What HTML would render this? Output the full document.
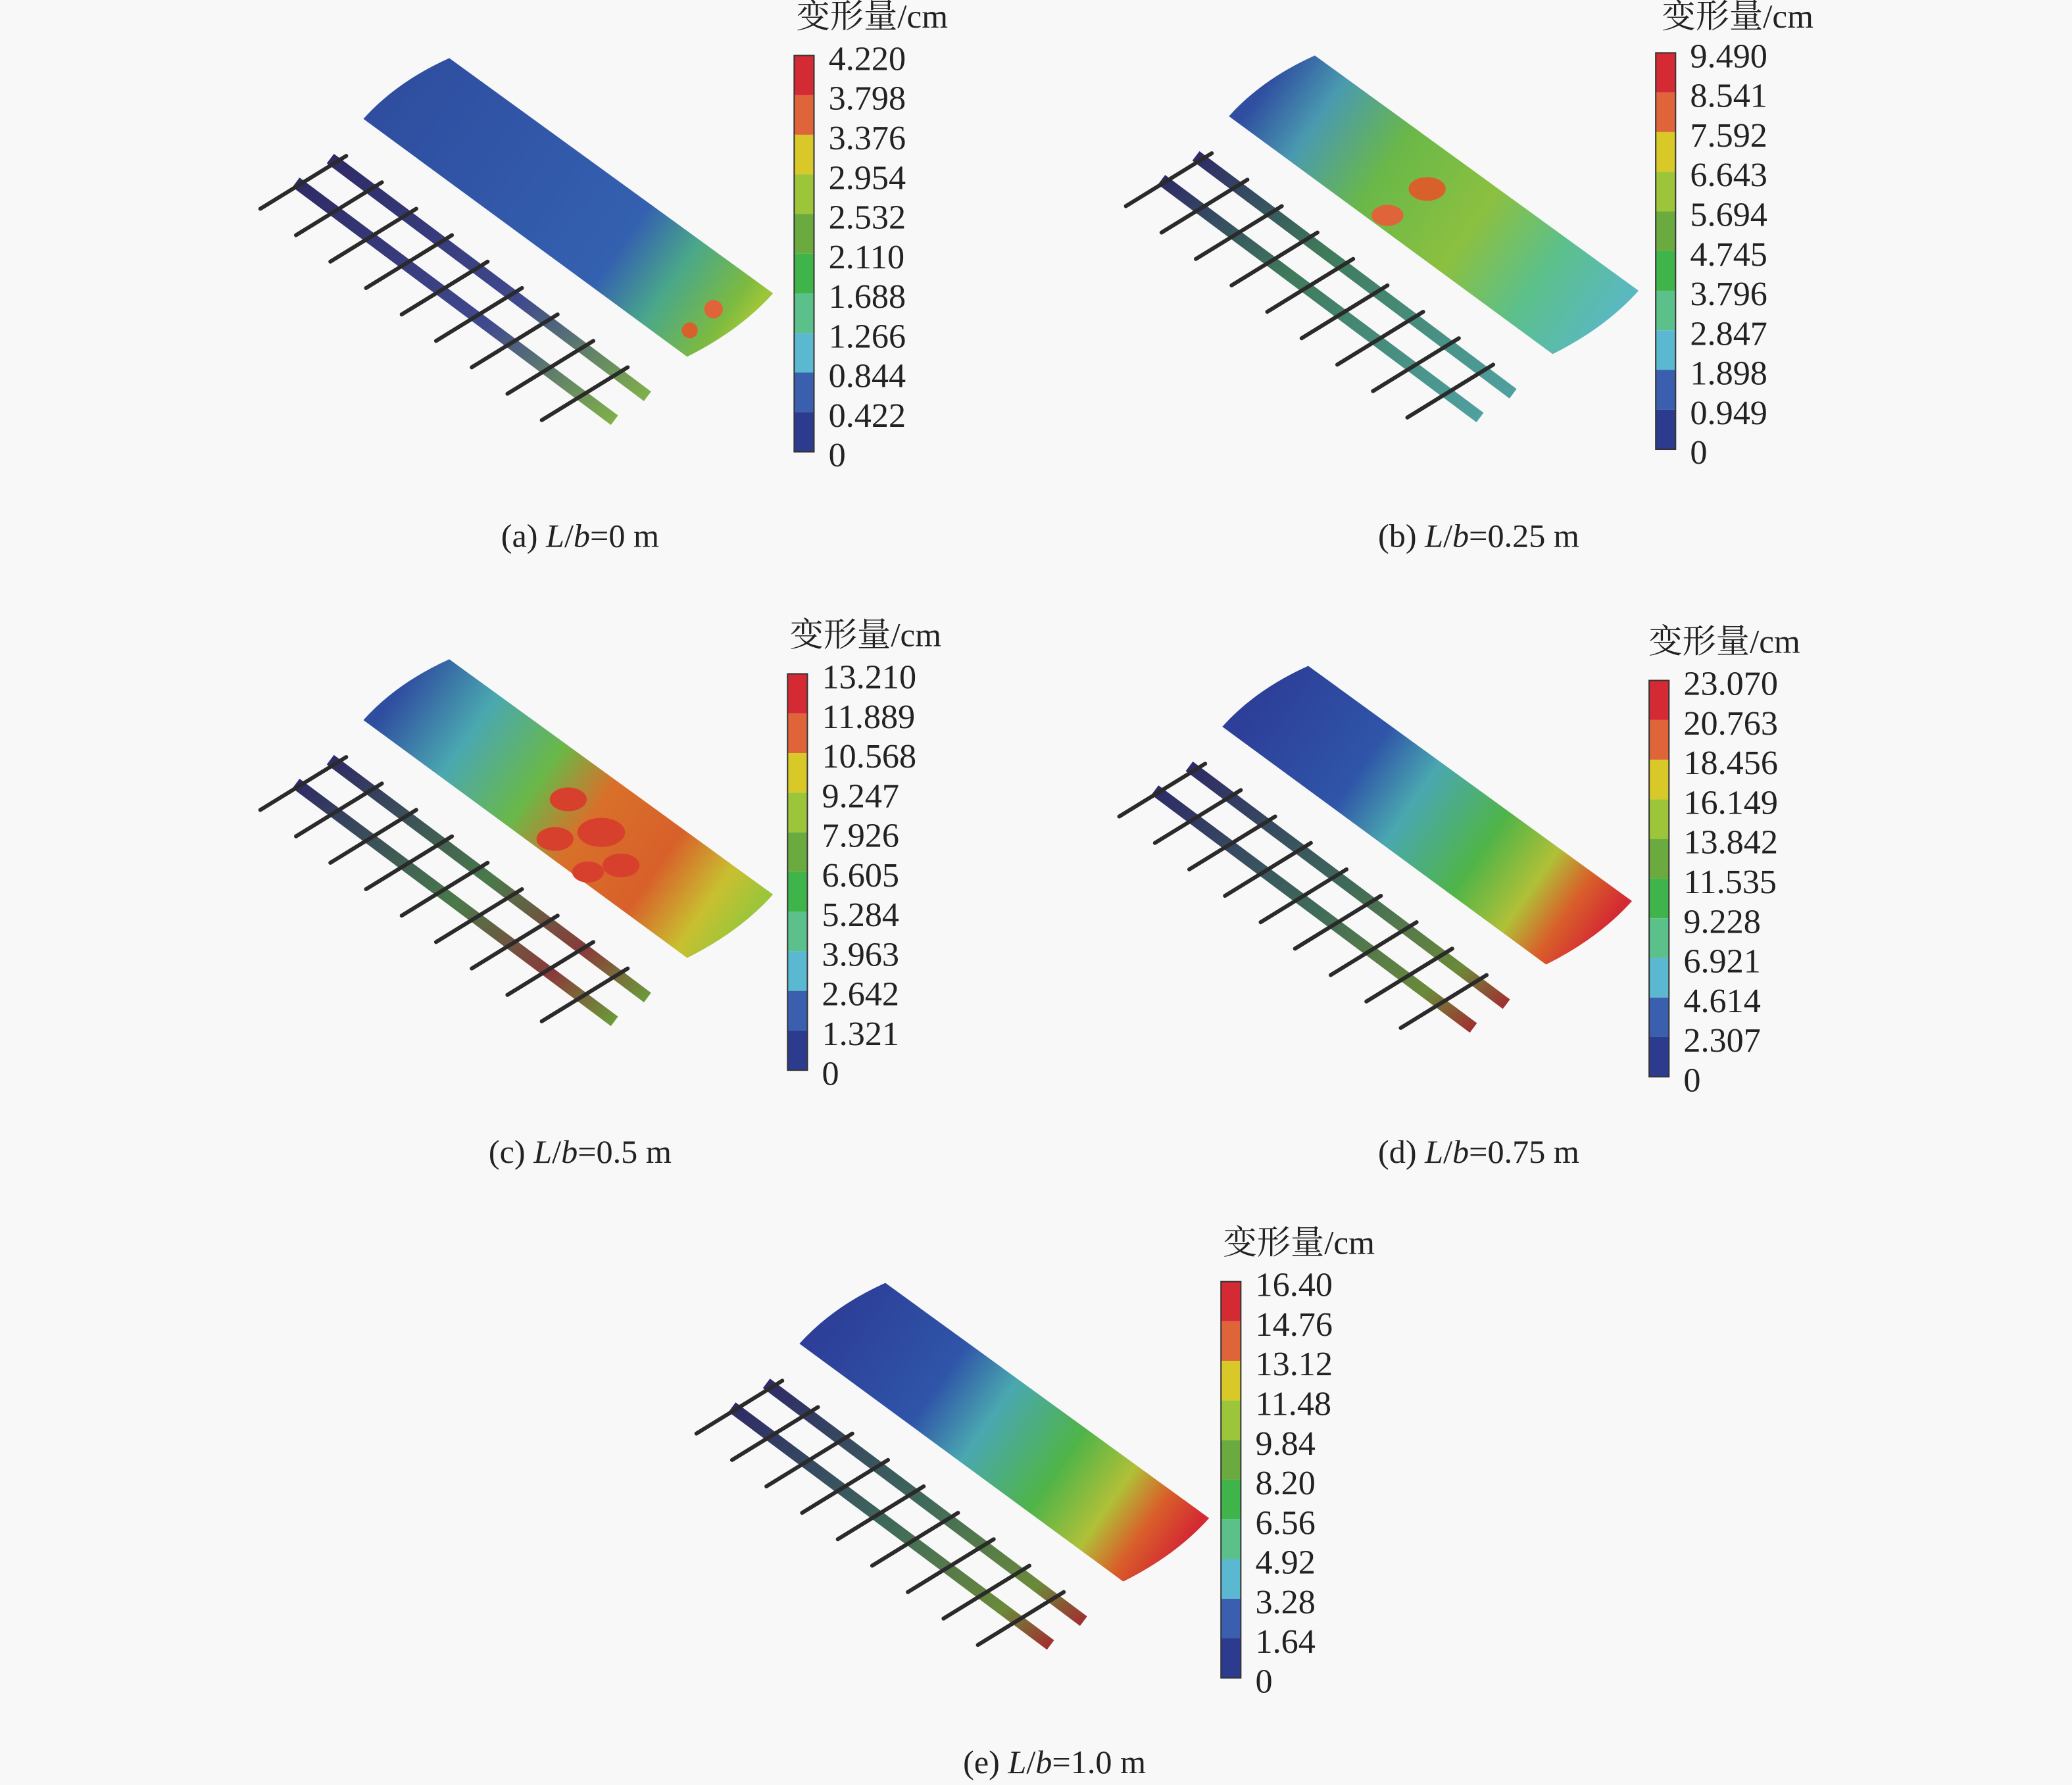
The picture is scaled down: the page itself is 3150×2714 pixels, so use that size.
<!DOCTYPE html>
<html><head><meta charset="utf-8"><style>
html,body{margin:0;padding:0;background:#f8f8f8;}
svg{display:block;}
text{font-family:"Liberation Serif","Noto Serif CJK SC","Noto Sans CJK SC",serif;fill:#222;}
</style></head><body>
<svg width="3150" height="2714" viewBox="0 0 1568 1351" preserveAspectRatio="none" xmlns="http://www.w3.org/2000/svg">
<rect width="1568" height="1351" fill="#f8f8f8"/>
<defs>
<path id="wing" d="M275,90 Q300,62 340,44 L585,222 Q560,250 520,270 Z"/>
<g id="cbar">
 <rect x="0" y="0" width="15" height="30" fill="#d42a33"/>
 <rect x="0" y="30" width="15" height="30" fill="#e0643a"/>
 <rect x="0" y="60" width="15" height="30" fill="#d8c828"/>
 <rect x="0" y="90" width="15" height="30" fill="#9cc53a"/>
 <rect x="0" y="120" width="15" height="30" fill="#6aaa3f"/>
 <rect x="0" y="150" width="15" height="30" fill="#3fb44a"/>
 <rect x="0" y="180" width="15" height="30" fill="#5cc08a"/>
 <rect x="0" y="210" width="15" height="30" fill="#5ab8d0"/>
 <rect x="0" y="240" width="15" height="30" fill="#3a5fae"/>
 <rect x="0" y="270" width="15" height="30" fill="#2d3b8e"/>
 <rect x="0" y="0" width="15" height="300" fill="none" stroke="#333" stroke-width="1"/>
</g>
<linearGradient id="beamA" x1="0" y1="0" x2="1" y2="1"><stop offset="0" stop-color="#2e2a66"/><stop offset="0.6" stop-color="#3f4a8e"/><stop offset="1" stop-color="#7fb04a"/></linearGradient>
<linearGradient id="beamB" x1="0" y1="0" x2="1" y2="1"><stop offset="0" stop-color="#2e2a66"/><stop offset="0.4" stop-color="#3f7a5a"/><stop offset="1" stop-color="#4fa0a0"/></linearGradient>
<linearGradient id="beamC" x1="0" y1="0" x2="1" y2="1"><stop offset="0" stop-color="#2e2a66"/><stop offset="0.5" stop-color="#4a7a4a"/><stop offset="0.8" stop-color="#8a3a3a"/><stop offset="1" stop-color="#6a9a3a"/></linearGradient>
<linearGradient id="beamD" x1="0" y1="0" x2="1" y2="1"><stop offset="0" stop-color="#2e2a66"/><stop offset="0.5" stop-color="#3f6a5a"/><stop offset="0.85" stop-color="#6a8a3a"/><stop offset="1" stop-color="#a03030"/></linearGradient>
<g id="ribs" stroke="#2a2a2a" stroke-width="3" fill="none" stroke-linecap="round">
 <path d="M262,118 L197,158"/><path d="M289,138 L224,178"/><path d="M315,158 L250,198"/><path d="M342,178 L277,218"/><path d="M369,198 L304,238"/><path d="M395,218 L330,258"/><path d="M422,238 L357,278"/><path d="M449,258 L384,298"/><path d="M475,278 L410,318"/>
</g>
<linearGradient id="wA" gradientUnits="userSpaceOnUse" x1="300" y1="70" x2="560" y2="250"><stop offset="0" stop-color="#2f4ea0"/><stop offset="0.65" stop-color="#3460b0"/><stop offset="0.8" stop-color="#4aa88a"/><stop offset="0.95" stop-color="#7cba40"/><stop offset="1" stop-color="#9cc53a"/></linearGradient>
<linearGradient id="wB" gradientUnits="userSpaceOnUse" x1="300" y1="70" x2="560" y2="250"><stop offset="0" stop-color="#2f4ea0"/><stop offset="0.15" stop-color="#4a9ab0"/><stop offset="0.35" stop-color="#6ab848"/><stop offset="0.6" stop-color="#8cc040"/><stop offset="0.8" stop-color="#5cc08a"/><stop offset="1" stop-color="#5ab8c0"/></linearGradient>
<linearGradient id="wC" gradientUnits="userSpaceOnUse" x1="300" y1="70" x2="560" y2="250"><stop offset="0" stop-color="#2f4ea0"/><stop offset="0.2" stop-color="#4aa8b0"/><stop offset="0.4" stop-color="#6ab848"/><stop offset="0.55" stop-color="#d8702a"/><stop offset="0.75" stop-color="#d8602a"/><stop offset="0.9" stop-color="#c8c030"/><stop offset="1" stop-color="#9cc53a"/></linearGradient>
<linearGradient id="wD" gradientUnits="userSpaceOnUse" x1="300" y1="70" x2="560" y2="250"><stop offset="0" stop-color="#2d3f98"/><stop offset="0.3" stop-color="#2f55a8"/><stop offset="0.45" stop-color="#4aa8b0"/><stop offset="0.65" stop-color="#4fb448"/><stop offset="0.8" stop-color="#b0c038"/><stop offset="0.9" stop-color="#d8602a"/><stop offset="1" stop-color="#d42a33"/></linearGradient>
</defs>

<g>
 <use href="#wing" fill="url(#wA)"/>
 <circle cx="540" cy="234" r="7" fill="#e0643a"/><circle cx="522" cy="250" r="6" fill="#d8602a"/>
 <path d="M250,120 L490,300" stroke="url(#beamA)" stroke-width="9"/>
 <path d="M224,138 L465,318" stroke="url(#beamA)" stroke-width="9"/>
 <use href="#ribs"/>
</g>
<g transform="translate(655,-2)">
 <use href="#wing" fill="url(#wB)"/>
 <ellipse cx="425" cy="145" rx="14" ry="9" fill="#d8602a"/><ellipse cx="395" cy="165" rx="12" ry="8" fill="#e0643a"/>
 <path d="M250,120 L490,300" stroke="url(#beamB)" stroke-width="9"/>
 <path d="M224,138 L465,318" stroke="url(#beamB)" stroke-width="9"/>
 <use href="#ribs"/>
</g>
<g transform="translate(0,455)">
 <use href="#wing" fill="url(#wC)"/>
 <ellipse cx="430" cy="150" rx="14" ry="9" fill="#d8402e"/>
 <ellipse cx="455" cy="175" rx="18" ry="11" fill="#d8402e"/>
 <ellipse cx="420" cy="180" rx="14" ry="9" fill="#d8402e"/>
 <ellipse cx="470" cy="200" rx="14" ry="9" fill="#d8402e"/>
 <ellipse cx="445" cy="205" rx="12" ry="8" fill="#d8402e"/>
 <path d="M250,120 L490,300" stroke="url(#beamC)" stroke-width="9"/>
 <path d="M224,138 L465,318" stroke="url(#beamC)" stroke-width="9"/>
 <use href="#ribs"/>
</g>
<g transform="translate(650,460)">
 <use href="#wing" fill="url(#wD)"/>
 <path d="M250,120 L490,300" stroke="url(#beamD)" stroke-width="9"/>
 <path d="M224,138 L465,318" stroke="url(#beamD)" stroke-width="9"/>
 <use href="#ribs"/>
</g>
<g transform="translate(330,927)">
 <use href="#wing" fill="url(#wD)"/>
 <path d="M250,120 L490,300" stroke="url(#beamD)" stroke-width="9"/>
 <path d="M224,138 L465,318" stroke="url(#beamD)" stroke-width="9"/>
 <use href="#ribs"/>
</g>

<g font-size="26">
<g transform="translate(601,42)"><use href="#cbar"/>
 <text x="59" y="-21" text-anchor="middle" font-size="25.5">变形量/cm</text>
 <g transform="translate(26,11)"><text y="0">4.220</text><text y="30">3.798</text><text y="60">3.376</text><text y="90">2.954</text><text y="120">2.532</text><text y="150">2.110</text><text y="180">1.688</text><text y="210">1.266</text><text y="240">0.844</text><text y="270">0.422</text><text y="300">0</text></g>
</g>
<g transform="translate(1253,40)"><use href="#cbar"/>
 <text x="62" y="-19" text-anchor="middle" font-size="25.5">变形量/cm</text>
 <g transform="translate(26,11)"><text y="0">9.490</text><text y="30">8.541</text><text y="60">7.592</text><text y="90">6.643</text><text y="120">5.694</text><text y="150">4.745</text><text y="180">3.796</text><text y="210">2.847</text><text y="240">1.898</text><text y="270">0.949</text><text y="300">0</text></g>
</g>
<g transform="translate(596,510)"><use href="#cbar"/>
 <text x="59" y="-21" text-anchor="middle" font-size="25.5">变形量/cm</text>
 <g transform="translate(26,11)"><text y="0">13.210</text><text y="30">11.889</text><text y="60">10.568</text><text y="90">9.247</text><text y="120">7.926</text><text y="150">6.605</text><text y="180">5.284</text><text y="210">3.963</text><text y="240">2.642</text><text y="270">1.321</text><text y="300">0</text></g>
</g>
<g transform="translate(1248,515)"><use href="#cbar"/>
 <text x="57" y="-21" text-anchor="middle" font-size="25.5">变形量/cm</text>
 <g transform="translate(26,11)"><text y="0">23.070</text><text y="30">20.763</text><text y="60">18.456</text><text y="90">16.149</text><text y="120">13.842</text><text y="150">11.535</text><text y="180">9.228</text><text y="210">6.921</text><text y="240">4.614</text><text y="270">2.307</text><text y="300">0</text></g>
</g>
<g transform="translate(924,970)"><use href="#cbar"/>
 <text x="59" y="-21" text-anchor="middle" font-size="25.5">变形量/cm</text>
 <g transform="translate(26,11)"><text y="0">16.40</text><text y="30">14.76</text><text y="60">13.12</text><text y="90">11.48</text><text y="120">9.84</text><text y="150">8.20</text><text y="180">6.56</text><text y="210">4.92</text><text y="240">3.28</text><text y="270">1.64</text><text y="300">0</text></g>
</g>
</g>

<g font-size="25" text-anchor="middle">
<text x="439" y="414">(a) <tspan font-style="italic">L</tspan>/<tspan font-style="italic">b</tspan>=0 m</text>
<text x="1119" y="414">(b) <tspan font-style="italic">L</tspan>/<tspan font-style="italic">b</tspan>=0.25 m</text>
<text x="439" y="880">(c) <tspan font-style="italic">L</tspan>/<tspan font-style="italic">b</tspan>=0.5 m</text>
<text x="1119" y="880">(d) <tspan font-style="italic">L</tspan>/<tspan font-style="italic">b</tspan>=0.75 m</text>
<text x="798" y="1342">(e) <tspan font-style="italic">L</tspan>/<tspan font-style="italic">b</tspan>=1.0 m</text>
</g>
</svg>
</body></html>
